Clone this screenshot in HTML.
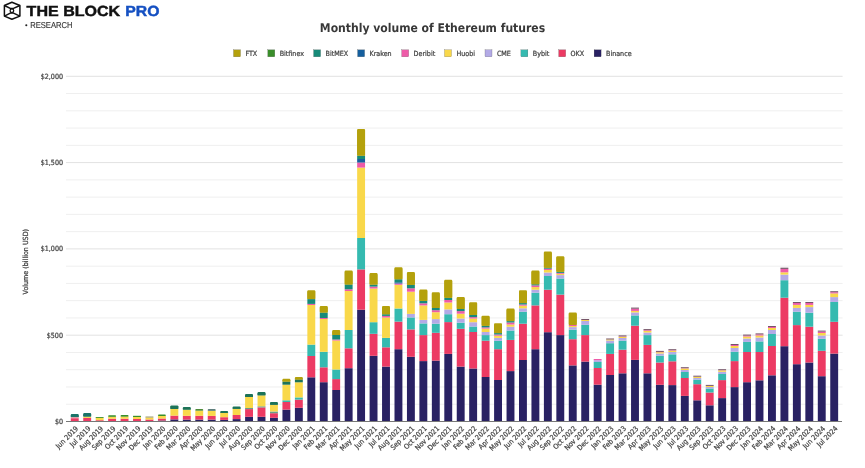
<!DOCTYPE html>
<html><head><meta charset="utf-8"><style>
html,body{margin:0;padding:0;background:#fff;}
body{width:865px;height:468px;overflow:hidden;}
svg{display:block;will-change:transform;text-rendering:geometricPrecision;}
</style></head><body>
<svg width="865" height="468" viewBox="0 0 865 468">
<rect width="865" height="468" fill="#fff"/>
<g fill="none" stroke="#111" stroke-width="1.5" stroke-linejoin="round">
<polygon points="11.9,2.2 19.9,5.5 19.9,16.1 11.9,19.3 4.4,16.1 4.4,5.5"/>
<polyline points="4.4,5.5 10.3,8.4 13.5,8.4 19.9,5.5"/>
<polyline points="4.4,16.1 10.3,13.1 13.5,13.1 19.9,16.1"/>
<circle cx="11.9" cy="10.75" r="1.8" stroke-width="1.3"/>
</g>
<g font-family="'Liberation Sans', Arial, sans-serif" font-weight="bold" font-size="14.6" stroke-width="0.45">
<text x="26.6" y="16.3" fill="#111" stroke="#111" textLength="93.6" lengthAdjust="spacingAndGlyphs">THE BLOCK</text>
<text x="125.3" y="16.3" fill="#1550C2" stroke="#1550C2" textLength="34.2" lengthAdjust="spacingAndGlyphs">PRO</text></g>
<circle cx="26.3" cy="25.2" r="1.05" fill="#222"/><text x="30.2" y="27.8" font-family="'Liberation Sans', Arial, sans-serif" font-size="8.6" fill="#3a3a3a" stroke="#3a3a3a" stroke-width="0.15" textLength="42.4" lengthAdjust="spacingAndGlyphs">RESEARCH</text>
<text x="432.5" y="31.6" text-anchor="middle" font-family="'DejaVu Sans Condensed', 'DejaVu Sans', sans-serif" font-weight="bold" font-size="12.05" fill="#383838">Monthly volume of Ethereum futures</text>
<g font-family="'DejaVu Sans Condensed', 'DejaVu Sans', sans-serif" font-size="7.1" fill="#444" stroke="#444" stroke-width="0.22"><rect x="233.5" y="49.8" width="7" height="7" fill="#B4A10C"/><text x="245.4" y="56.3">FTX</text><rect x="267.8" y="49.8" width="7" height="7" fill="#3A8E2A"/><text x="279.7" y="56.3">Bitfinex</text><rect x="313.6" y="49.8" width="7" height="7" fill="#178A78"/><text x="325.5" y="56.3">BitMEX</text><rect x="357.6" y="49.8" width="7" height="7" fill="#155F9E"/><text x="369.5" y="56.3">Kraken</text><rect x="401.7" y="49.8" width="7" height="7" fill="#EE5BA8"/><text x="413.59999999999997" y="56.3">Deribit</text><rect x="444.5" y="49.8" width="7" height="7" fill="#F9D84A"/><text x="456.4" y="56.3">Huobi</text><rect x="485" y="49.8" width="7" height="7" fill="#B3AAE6"/><text x="496.9" y="56.3">CME</text><rect x="520.9" y="49.8" width="7" height="7" fill="#35BAB0"/><text x="532.8" y="56.3">Bybit</text><rect x="558.7" y="49.8" width="7" height="7" fill="#EC3A63"/><text x="570.6" y="56.3">OKX</text><rect x="594.1" y="49.8" width="7" height="7" fill="#292163"/><text x="606.0" y="56.3">Binance</text></g>
<g><line x1="66" x2="842.6" y1="404.24" y2="404.24" stroke="#efefef" stroke-width="1"/><line x1="66" x2="842.6" y1="386.98" y2="386.98" stroke="#efefef" stroke-width="1"/><line x1="66" x2="842.6" y1="369.72" y2="369.72" stroke="#efefef" stroke-width="1"/><line x1="66" x2="842.6" y1="352.46" y2="352.46" stroke="#efefef" stroke-width="1"/><line x1="66" x2="842.6" y1="335.20" y2="335.20" stroke="#e2e2e2" stroke-width="1"/><line x1="66" x2="842.6" y1="317.94" y2="317.94" stroke="#efefef" stroke-width="1"/><line x1="66" x2="842.6" y1="300.68" y2="300.68" stroke="#efefef" stroke-width="1"/><line x1="66" x2="842.6" y1="283.42" y2="283.42" stroke="#efefef" stroke-width="1"/><line x1="66" x2="842.6" y1="266.16" y2="266.16" stroke="#efefef" stroke-width="1"/><line x1="66" x2="842.6" y1="248.90" y2="248.90" stroke="#e2e2e2" stroke-width="1"/><line x1="66" x2="842.6" y1="231.64" y2="231.64" stroke="#efefef" stroke-width="1"/><line x1="66" x2="842.6" y1="214.38" y2="214.38" stroke="#efefef" stroke-width="1"/><line x1="66" x2="842.6" y1="197.12" y2="197.12" stroke="#efefef" stroke-width="1"/><line x1="66" x2="842.6" y1="179.86" y2="179.86" stroke="#efefef" stroke-width="1"/><line x1="66" x2="842.6" y1="162.60" y2="162.60" stroke="#e2e2e2" stroke-width="1"/><line x1="66" x2="842.6" y1="145.34" y2="145.34" stroke="#efefef" stroke-width="1"/><line x1="66" x2="842.6" y1="128.08" y2="128.08" stroke="#efefef" stroke-width="1"/><line x1="66" x2="842.6" y1="110.82" y2="110.82" stroke="#efefef" stroke-width="1"/><line x1="66" x2="842.6" y1="93.56" y2="93.56" stroke="#efefef" stroke-width="1"/><line x1="66" x2="842.6" y1="76.30" y2="76.30" stroke="#e2e2e2" stroke-width="1"/></g>
<g font-family="'DejaVu Sans Condensed', 'DejaVu Sans', sans-serif" font-size="7.1" fill="#444" stroke="#444" stroke-width="0.22"><text x="63" y="423.80" text-anchor="end">$0</text><text x="63" y="337.50" text-anchor="end">$500</text><text x="63" y="251.20" text-anchor="end">$1,000</text><text x="63" y="164.90" text-anchor="end">$1,500</text><text x="63" y="78.60" text-anchor="end">$2,000</text></g>
<text transform="translate(28.4,261.7) rotate(-90)" text-anchor="middle" font-family="'DejaVu Sans Condensed', 'DejaVu Sans', sans-serif" font-size="7.1" fill="#444" stroke="#444" stroke-width="0.22">Volume (billion USD)</text>
<g><rect x="70.80" y="418.20" width="7.9" height="2.90" fill="#EC3A63"/><rect x="70.80" y="417.10" width="7.9" height="1.10" fill="#EFA0A8"/><rect x="70.80" y="414.10" width="7.9" height="3.00" rx="0.9" fill="#1B7468"/><rect x="70.80" y="415.30" width="7.9" height="1.80" fill="#1B7468"/><rect x="83.25" y="417.90" width="7.9" height="3.20" fill="#EC3A63"/><rect x="83.25" y="416.50" width="7.9" height="1.40" fill="#F9D84A"/><rect x="83.25" y="413.10" width="7.9" height="3.40" rx="0.9" fill="#1B7468"/><rect x="83.25" y="414.30" width="7.9" height="2.20" fill="#1B7468"/><rect x="95.70" y="420.20" width="7.9" height="0.90" fill="#EC3A63"/><rect x="95.70" y="417.90" width="7.9" height="2.30" fill="#F9D84A"/><rect x="95.70" y="417.00" width="7.9" height="0.90" fill="#3A8E2A"/><rect x="108.15" y="418.70" width="7.9" height="2.40" fill="#EC3A63"/><rect x="108.15" y="416.70" width="7.9" height="2.00" fill="#F9D84A"/><rect x="108.15" y="415.20" width="7.9" height="1.50" rx="0.9" fill="#3A8E2A"/><rect x="108.15" y="416.40" width="7.9" height="0.30" fill="#3A8E2A"/><rect x="120.60" y="418.70" width="7.9" height="2.40" fill="#EC3A63"/><rect x="120.60" y="416.50" width="7.9" height="2.20" fill="#F9D84A"/><rect x="120.60" y="415.00" width="7.9" height="1.50" rx="0.9" fill="#3A8E2A"/><rect x="120.60" y="416.20" width="7.9" height="0.30" fill="#3A8E2A"/><rect x="133.05" y="419.00" width="7.9" height="2.10" fill="#EC3A63"/><rect x="133.05" y="417.00" width="7.9" height="2.00" fill="#F9D84A"/><rect x="133.05" y="415.80" width="7.9" height="1.20" fill="#3A8E2A"/><rect x="145.50" y="419.50" width="7.9" height="1.60" fill="#EC3A63"/><rect x="145.50" y="417.60" width="7.9" height="1.90" fill="#F9D84A"/><rect x="145.50" y="416.50" width="7.9" height="1.10" fill="#9C9A6C"/><rect x="157.95" y="420.50" width="7.9" height="0.60" fill="#292163"/><rect x="157.95" y="418.50" width="7.9" height="2.00" fill="#EC3A63"/><rect x="157.95" y="416.00" width="7.9" height="2.50" fill="#F9D84A"/><rect x="157.95" y="414.60" width="7.9" height="1.40" rx="0.9" fill="#3A8E2A"/><rect x="157.95" y="415.80" width="7.9" height="0.20" fill="#3A8E2A"/><rect x="170.40" y="419.40" width="7.9" height="1.70" fill="#292163"/><rect x="170.40" y="415.60" width="7.9" height="3.80" fill="#EC3A63"/><rect x="170.40" y="409.00" width="7.9" height="6.60" fill="#F9D84A"/><rect x="170.40" y="405.40" width="7.9" height="3.60" rx="0.9" fill="#1D7358"/><rect x="170.40" y="406.60" width="7.9" height="2.40" fill="#1D7358"/><rect x="182.85" y="419.60" width="7.9" height="1.50" fill="#292163"/><rect x="182.85" y="415.80" width="7.9" height="3.80" fill="#EC3A63"/><rect x="182.85" y="409.60" width="7.9" height="6.20" fill="#F9D84A"/><rect x="182.85" y="407.10" width="7.9" height="2.50" rx="0.9" fill="#1D7358"/><rect x="182.85" y="408.30" width="7.9" height="1.30" fill="#1D7358"/><rect x="195.30" y="419.60" width="7.9" height="1.50" fill="#292163"/><rect x="195.30" y="415.80" width="7.9" height="3.80" fill="#EC3A63"/><rect x="195.30" y="410.60" width="7.9" height="5.20" fill="#F9D84A"/><rect x="195.30" y="409.00" width="7.9" height="1.60" rx="0.9" fill="#4E8A3A"/><rect x="195.30" y="410.20" width="7.9" height="0.40" fill="#4E8A3A"/><rect x="207.75" y="419.60" width="7.9" height="1.50" fill="#292163"/><rect x="207.75" y="415.90" width="7.9" height="3.70" fill="#EC3A63"/><rect x="207.75" y="410.70" width="7.9" height="5.20" fill="#F9D84A"/><rect x="207.75" y="409.00" width="7.9" height="1.70" rx="0.9" fill="#5F7F7C"/><rect x="207.75" y="410.20" width="7.9" height="0.50" fill="#5F7F7C"/><rect x="220.20" y="419.90" width="7.9" height="1.20" fill="#292163"/><rect x="220.20" y="417.20" width="7.9" height="2.70" fill="#EC3A63"/><rect x="220.20" y="412.90" width="7.9" height="4.30" fill="#F9D84A"/><rect x="220.20" y="411.10" width="7.9" height="1.80" rx="0.9" fill="#1D7358"/><rect x="220.20" y="412.30" width="7.9" height="0.60" fill="#1D7358"/><rect x="232.65" y="419.10" width="7.9" height="2.00" fill="#292163"/><rect x="232.65" y="415.00" width="7.9" height="4.10" fill="#EC3A63"/><rect x="232.65" y="408.80" width="7.9" height="6.20" fill="#F9D84A"/><rect x="232.65" y="406.40" width="7.9" height="2.40" rx="0.9" fill="#1D7358"/><rect x="232.65" y="407.60" width="7.9" height="1.20" fill="#1D7358"/><rect x="245.10" y="416.80" width="7.9" height="4.30" fill="#292163"/><rect x="245.10" y="409.10" width="7.9" height="7.70" fill="#EC3A63"/><rect x="245.10" y="408.00" width="7.9" height="1.10" fill="#6A9E8A"/><rect x="245.10" y="397.00" width="7.9" height="11.00" fill="#F9D84A"/><rect x="245.10" y="393.90" width="7.9" height="3.10" rx="0.9" fill="#1D7358"/><rect x="245.10" y="395.10" width="7.9" height="1.90" fill="#1D7358"/><rect x="257.55" y="416.80" width="7.9" height="4.30" fill="#292163"/><rect x="257.55" y="407.40" width="7.9" height="9.40" fill="#EC3A63"/><rect x="257.55" y="406.30" width="7.9" height="1.10" fill="#6A9E8A"/><rect x="257.55" y="395.30" width="7.9" height="11.00" fill="#F9D84A"/><rect x="257.55" y="392.00" width="7.9" height="3.30" rx="0.9" fill="#1D7358"/><rect x="257.55" y="393.20" width="7.9" height="2.10" fill="#1D7358"/><rect x="270.00" y="417.80" width="7.9" height="3.30" fill="#292163"/><rect x="270.00" y="413.20" width="7.9" height="4.60" fill="#EC3A63"/><rect x="270.00" y="411.50" width="7.9" height="1.70" fill="#6A9E8A"/><rect x="270.00" y="404.70" width="7.9" height="6.80" fill="#F9D84A"/><rect x="270.00" y="402.10" width="7.9" height="2.60" rx="0.9" fill="#1D7358"/><rect x="270.00" y="403.30" width="7.9" height="1.40" fill="#1D7358"/><rect x="282.45" y="409.60" width="7.9" height="11.50" fill="#292163"/><rect x="282.45" y="402.00" width="7.9" height="7.60" fill="#EC3A63"/><rect x="282.45" y="400.30" width="7.9" height="1.70" fill="#35BAB0"/><rect x="282.45" y="384.70" width="7.9" height="15.60" fill="#F9D84A"/><rect x="282.45" y="381.50" width="7.9" height="3.20" fill="#1D7358"/><rect x="282.45" y="378.80" width="7.9" height="2.70" rx="0.9" fill="#B4A10C"/><rect x="282.45" y="380.00" width="7.9" height="1.50" fill="#B4A10C"/><rect x="294.90" y="407.80" width="7.9" height="13.30" fill="#292163"/><rect x="294.90" y="399.60" width="7.9" height="8.20" fill="#EC3A63"/><rect x="294.90" y="397.40" width="7.9" height="2.20" fill="#35BAB0"/><rect x="294.90" y="382.30" width="7.9" height="15.10" fill="#F9D84A"/><rect x="294.90" y="379.40" width="7.9" height="2.90" fill="#1D7358"/><rect x="294.90" y="377.00" width="7.9" height="2.40" rx="0.9" fill="#B4A10C"/><rect x="294.90" y="378.20" width="7.9" height="1.20" fill="#B4A10C"/><rect x="307.35" y="377.30" width="7.9" height="43.80" fill="#292163"/><rect x="307.35" y="356.00" width="7.9" height="21.30" fill="#EC3A63"/><rect x="307.35" y="344.60" width="7.9" height="11.40" fill="#35BAB0"/><rect x="307.35" y="305.00" width="7.9" height="39.60" fill="#F9D84A"/><rect x="307.35" y="303.90" width="7.9" height="1.10" fill="#EE5BA8"/><rect x="307.35" y="299.10" width="7.9" height="4.80" fill="#178A78"/><rect x="307.35" y="290.30" width="7.9" height="8.80" rx="0.9" fill="#B4A10C"/><rect x="307.35" y="291.50" width="7.9" height="7.60" fill="#B4A10C"/><rect x="319.80" y="382.20" width="7.9" height="38.90" fill="#292163"/><rect x="319.80" y="367.30" width="7.9" height="14.90" fill="#EC3A63"/><rect x="319.80" y="351.80" width="7.9" height="15.50" fill="#35BAB0"/><rect x="319.80" y="319.00" width="7.9" height="32.80" fill="#F9D84A"/><rect x="319.80" y="318.00" width="7.9" height="1.00" fill="#EE5BA8"/><rect x="319.80" y="312.50" width="7.9" height="5.50" fill="#178A78"/><rect x="319.80" y="306.00" width="7.9" height="6.50" rx="0.9" fill="#B4A10C"/><rect x="319.80" y="307.20" width="7.9" height="5.30" fill="#B4A10C"/><rect x="332.25" y="390.00" width="7.9" height="31.10" fill="#292163"/><rect x="332.25" y="379.10" width="7.9" height="10.90" fill="#EC3A63"/><rect x="332.25" y="369.50" width="7.9" height="9.60" fill="#35BAB0"/><rect x="332.25" y="340.50" width="7.9" height="29.00" fill="#F9D84A"/><rect x="332.25" y="339.50" width="7.9" height="1.00" fill="#EE5BA8"/><rect x="332.25" y="335.00" width="7.9" height="4.50" fill="#178A78"/><rect x="332.25" y="330.10" width="7.9" height="4.90" rx="0.9" fill="#B4A10C"/><rect x="332.25" y="331.30" width="7.9" height="3.70" fill="#B4A10C"/><rect x="344.70" y="368.20" width="7.9" height="52.90" fill="#292163"/><rect x="344.70" y="348.30" width="7.9" height="19.90" fill="#EC3A63"/><rect x="344.70" y="330.00" width="7.9" height="18.30" fill="#35BAB0"/><rect x="344.70" y="291.00" width="7.9" height="39.00" fill="#F9D84A"/><rect x="344.70" y="289.30" width="7.9" height="1.70" fill="#EE5BA8"/><rect x="344.70" y="284.40" width="7.9" height="4.90" fill="#178A78"/><rect x="344.70" y="270.50" width="7.9" height="13.90" rx="0.9" fill="#B4A10C"/><rect x="344.70" y="271.70" width="7.9" height="12.70" fill="#B4A10C"/><rect x="357.15" y="309.70" width="7.9" height="111.40" fill="#292163"/><rect x="357.15" y="269.40" width="7.9" height="40.30" fill="#EC3A63"/><rect x="357.15" y="238.00" width="7.9" height="31.40" fill="#35BAB0"/><rect x="357.15" y="167.60" width="7.9" height="70.40" fill="#F9D84A"/><rect x="357.15" y="162.50" width="7.9" height="5.10" fill="#EE5BA8"/><rect x="357.15" y="159.00" width="7.9" height="3.50" fill="#155F9E"/><rect x="357.15" y="155.60" width="7.9" height="3.40" fill="#178A78"/><rect x="357.15" y="128.90" width="7.9" height="26.70" rx="0.9" fill="#B4A10C"/><rect x="357.15" y="130.10" width="7.9" height="25.50" fill="#B4A10C"/><rect x="369.60" y="355.80" width="7.9" height="65.30" fill="#292163"/><rect x="369.60" y="333.80" width="7.9" height="22.00" fill="#EC3A63"/><rect x="369.60" y="322.20" width="7.9" height="11.60" fill="#35BAB0"/><rect x="369.60" y="288.50" width="7.9" height="33.70" fill="#F9D84A"/><rect x="369.60" y="286.60" width="7.9" height="1.90" fill="#EE5BA8"/><rect x="369.60" y="284.60" width="7.9" height="2.00" fill="#178A78"/><rect x="369.60" y="273.10" width="7.9" height="11.50" rx="0.9" fill="#B4A10C"/><rect x="369.60" y="274.30" width="7.9" height="10.30" fill="#B4A10C"/><rect x="382.05" y="366.60" width="7.9" height="54.50" fill="#292163"/><rect x="382.05" y="347.30" width="7.9" height="19.30" fill="#EC3A63"/><rect x="382.05" y="337.90" width="7.9" height="9.40" fill="#35BAB0"/><rect x="382.05" y="317.50" width="7.9" height="20.40" fill="#F9D84A"/><rect x="382.05" y="315.90" width="7.9" height="1.60" fill="#EE5BA8"/><rect x="382.05" y="314.20" width="7.9" height="1.70" fill="#178A78"/><rect x="382.05" y="306.00" width="7.9" height="8.20" rx="0.9" fill="#B4A10C"/><rect x="382.05" y="307.20" width="7.9" height="7.00" fill="#B4A10C"/><rect x="394.50" y="349.20" width="7.9" height="71.90" fill="#292163"/><rect x="394.50" y="321.60" width="7.9" height="27.60" fill="#EC3A63"/><rect x="394.50" y="308.50" width="7.9" height="13.10" fill="#35BAB0"/><rect x="394.50" y="284.80" width="7.9" height="23.70" fill="#F9D84A"/><rect x="394.50" y="283.50" width="7.9" height="1.30" fill="#EE5BA8"/><rect x="394.50" y="282.30" width="7.9" height="1.20" fill="#155F9E"/><rect x="394.50" y="279.20" width="7.9" height="3.10" fill="#178A78"/><rect x="394.50" y="267.20" width="7.9" height="12.00" rx="0.9" fill="#B4A10C"/><rect x="394.50" y="268.40" width="7.9" height="10.80" fill="#B4A10C"/><rect x="406.95" y="356.80" width="7.9" height="64.30" fill="#292163"/><rect x="406.95" y="329.40" width="7.9" height="27.40" fill="#EC3A63"/><rect x="406.95" y="317.40" width="7.9" height="12.00" fill="#35BAB0"/><rect x="406.95" y="313.90" width="7.9" height="3.50" fill="#B3AAE6"/><rect x="406.95" y="291.70" width="7.9" height="22.20" fill="#F9D84A"/><rect x="406.95" y="288.30" width="7.9" height="3.40" fill="#EE5BA8"/><rect x="406.95" y="284.80" width="7.9" height="3.50" fill="#178A78"/><rect x="406.95" y="272.00" width="7.9" height="12.80" rx="0.9" fill="#B4A10C"/><rect x="406.95" y="273.20" width="7.9" height="11.60" fill="#B4A10C"/><rect x="419.40" y="361.10" width="7.9" height="60.00" fill="#292163"/><rect x="419.40" y="335.10" width="7.9" height="26.00" fill="#EC3A63"/><rect x="419.40" y="323.40" width="7.9" height="11.70" fill="#35BAB0"/><rect x="419.40" y="319.90" width="7.9" height="3.50" fill="#B3AAE6"/><rect x="419.40" y="305.40" width="7.9" height="14.50" fill="#F9D84A"/><rect x="419.40" y="303.30" width="7.9" height="2.10" fill="#EE5BA8"/><rect x="419.40" y="300.80" width="7.9" height="2.50" fill="#178A78"/><rect x="419.40" y="289.60" width="7.9" height="11.20" rx="0.9" fill="#B4A10C"/><rect x="419.40" y="290.80" width="7.9" height="10.00" fill="#B4A10C"/><rect x="431.85" y="360.60" width="7.9" height="60.50" fill="#292163"/><rect x="431.85" y="332.80" width="7.9" height="27.80" fill="#EC3A63"/><rect x="431.85" y="323.70" width="7.9" height="9.10" fill="#35BAB0"/><rect x="431.85" y="319.10" width="7.9" height="4.60" fill="#B3AAE6"/><rect x="431.85" y="312.20" width="7.9" height="6.90" fill="#F9D84A"/><rect x="431.85" y="310.20" width="7.9" height="2.00" fill="#EE5BA8"/><rect x="431.85" y="308.00" width="7.9" height="2.20" fill="#178A78"/><rect x="431.85" y="292.20" width="7.9" height="15.80" rx="0.9" fill="#B4A10C"/><rect x="431.85" y="293.40" width="7.9" height="14.60" fill="#B4A10C"/><rect x="444.30" y="353.90" width="7.9" height="67.20" fill="#292163"/><rect x="444.30" y="322.10" width="7.9" height="31.80" fill="#EC3A63"/><rect x="444.30" y="314.20" width="7.9" height="7.90" fill="#35BAB0"/><rect x="444.30" y="309.40" width="7.9" height="4.80" fill="#B3AAE6"/><rect x="444.30" y="302.50" width="7.9" height="6.90" fill="#F9D84A"/><rect x="444.30" y="300.00" width="7.9" height="2.50" fill="#EE5BA8"/><rect x="444.30" y="297.70" width="7.9" height="2.30" fill="#178A78"/><rect x="444.30" y="279.80" width="7.9" height="17.90" rx="0.9" fill="#B4A10C"/><rect x="444.30" y="281.00" width="7.9" height="16.70" fill="#B4A10C"/><rect x="456.75" y="366.60" width="7.9" height="54.50" fill="#292163"/><rect x="456.75" y="328.80" width="7.9" height="37.80" fill="#EC3A63"/><rect x="456.75" y="322.70" width="7.9" height="6.10" fill="#35BAB0"/><rect x="456.75" y="318.50" width="7.9" height="4.20" fill="#B3AAE6"/><rect x="456.75" y="313.70" width="7.9" height="4.80" fill="#F9D84A"/><rect x="456.75" y="311.10" width="7.9" height="2.60" fill="#EE5BA8"/><rect x="456.75" y="309.00" width="7.9" height="2.10" fill="#178A78"/><rect x="456.75" y="296.90" width="7.9" height="12.10" rx="0.9" fill="#B4A10C"/><rect x="456.75" y="298.10" width="7.9" height="10.90" fill="#B4A10C"/><rect x="469.20" y="368.50" width="7.9" height="52.60" fill="#292163"/><rect x="469.20" y="332.00" width="7.9" height="36.50" fill="#EC3A63"/><rect x="469.20" y="326.50" width="7.9" height="5.50" fill="#35BAB0"/><rect x="469.20" y="322.20" width="7.9" height="4.30" fill="#B3AAE6"/><rect x="469.20" y="318.50" width="7.9" height="3.70" fill="#F9D84A"/><rect x="469.20" y="317.10" width="7.9" height="1.40" fill="#EE5BA8"/><rect x="469.20" y="314.90" width="7.9" height="2.20" fill="#178A78"/><rect x="469.20" y="302.20" width="7.9" height="12.70" rx="0.9" fill="#B4A10C"/><rect x="469.20" y="303.40" width="7.9" height="11.50" fill="#B4A10C"/><rect x="481.65" y="377.00" width="7.9" height="44.10" fill="#292163"/><rect x="481.65" y="340.70" width="7.9" height="36.30" fill="#EC3A63"/><rect x="481.65" y="335.10" width="7.9" height="5.60" fill="#35BAB0"/><rect x="481.65" y="332.00" width="7.9" height="3.10" fill="#B3AAE6"/><rect x="481.65" y="328.60" width="7.9" height="3.40" fill="#F9D84A"/><rect x="481.65" y="327.40" width="7.9" height="1.20" fill="#EE5BA8"/><rect x="481.65" y="325.70" width="7.9" height="1.70" fill="#178A78"/><rect x="481.65" y="315.70" width="7.9" height="10.00" rx="0.9" fill="#B4A10C"/><rect x="481.65" y="316.90" width="7.9" height="8.80" fill="#B4A10C"/><rect x="494.10" y="380.00" width="7.9" height="41.10" fill="#292163"/><rect x="494.10" y="349.20" width="7.9" height="30.80" fill="#EC3A63"/><rect x="494.10" y="340.80" width="7.9" height="8.40" fill="#35BAB0"/><rect x="494.10" y="337.90" width="7.9" height="2.90" fill="#B3AAE6"/><rect x="494.10" y="335.70" width="7.9" height="2.20" fill="#F9D84A"/><rect x="494.10" y="334.50" width="7.9" height="1.20" fill="#EE5BA8"/><rect x="494.10" y="333.10" width="7.9" height="1.40" fill="#178A78"/><rect x="494.10" y="323.20" width="7.9" height="9.90" rx="0.9" fill="#B4A10C"/><rect x="494.10" y="324.40" width="7.9" height="8.70" fill="#B4A10C"/><rect x="506.55" y="371.10" width="7.9" height="50.00" fill="#292163"/><rect x="506.55" y="339.90" width="7.9" height="31.20" fill="#EC3A63"/><rect x="506.55" y="330.50" width="7.9" height="9.40" fill="#35BAB0"/><rect x="506.55" y="326.70" width="7.9" height="3.80" fill="#B3AAE6"/><rect x="506.55" y="324.50" width="7.9" height="2.20" fill="#F9D84A"/><rect x="506.55" y="322.50" width="7.9" height="2.00" fill="#EE5BA8"/><rect x="506.55" y="321.10" width="7.9" height="1.40" fill="#178A78"/><rect x="506.55" y="308.60" width="7.9" height="12.50" rx="0.9" fill="#B4A10C"/><rect x="506.55" y="309.80" width="7.9" height="11.30" fill="#B4A10C"/><rect x="519.00" y="360.00" width="7.9" height="61.10" fill="#292163"/><rect x="519.00" y="323.70" width="7.9" height="36.30" fill="#EC3A63"/><rect x="519.00" y="311.70" width="7.9" height="12.00" fill="#35BAB0"/><rect x="519.00" y="308.30" width="7.9" height="3.40" fill="#B3AAE6"/><rect x="519.00" y="305.70" width="7.9" height="2.60" fill="#F9D84A"/><rect x="519.00" y="304.50" width="7.9" height="1.20" fill="#EE5BA8"/><rect x="519.00" y="303.10" width="7.9" height="1.40" fill="#178A78"/><rect x="519.00" y="290.30" width="7.9" height="12.80" rx="0.9" fill="#B4A10C"/><rect x="519.00" y="291.50" width="7.9" height="11.60" fill="#B4A10C"/><rect x="531.45" y="349.20" width="7.9" height="71.90" fill="#292163"/><rect x="531.45" y="305.40" width="7.9" height="43.80" fill="#EC3A63"/><rect x="531.45" y="292.70" width="7.9" height="12.70" fill="#35BAB0"/><rect x="531.45" y="289.70" width="7.9" height="3.00" fill="#B3AAE6"/><rect x="531.45" y="287.10" width="7.9" height="2.60" fill="#F9D84A"/><rect x="531.45" y="285.40" width="7.9" height="1.70" fill="#EE5BA8"/><rect x="531.45" y="284.20" width="7.9" height="1.20" fill="#178A78"/><rect x="531.45" y="270.50" width="7.9" height="13.70" rx="0.9" fill="#B4A10C"/><rect x="531.45" y="271.70" width="7.9" height="12.50" fill="#B4A10C"/><rect x="543.90" y="332.20" width="7.9" height="88.90" fill="#292163"/><rect x="543.90" y="289.70" width="7.9" height="42.50" fill="#EC3A63"/><rect x="543.90" y="276.00" width="7.9" height="13.70" fill="#35BAB0"/><rect x="543.90" y="272.50" width="7.9" height="3.50" fill="#B3AAE6"/><rect x="543.90" y="270.00" width="7.9" height="2.50" fill="#F9D84A"/><rect x="543.90" y="268.70" width="7.9" height="1.30" fill="#EE5BA8"/><rect x="543.90" y="267.70" width="7.9" height="1.00" fill="#178A78"/><rect x="543.90" y="251.60" width="7.9" height="16.10" rx="0.9" fill="#B4A10C"/><rect x="543.90" y="252.80" width="7.9" height="14.90" fill="#B4A10C"/><rect x="556.35" y="335.10" width="7.9" height="86.00" fill="#292163"/><rect x="556.35" y="294.60" width="7.9" height="40.50" fill="#EC3A63"/><rect x="556.35" y="278.50" width="7.9" height="16.10" fill="#35BAB0"/><rect x="556.35" y="275.10" width="7.9" height="3.40" fill="#B3AAE6"/><rect x="556.35" y="273.80" width="7.9" height="1.30" fill="#F9D84A"/><rect x="556.35" y="272.90" width="7.9" height="0.90" fill="#EE5BA8"/><rect x="556.35" y="271.70" width="7.9" height="1.20" fill="#178A78"/><rect x="556.35" y="256.30" width="7.9" height="15.40" rx="0.9" fill="#B4A10C"/><rect x="556.35" y="257.50" width="7.9" height="14.20" fill="#B4A10C"/><rect x="568.80" y="365.40" width="7.9" height="55.70" fill="#292163"/><rect x="568.80" y="339.20" width="7.9" height="26.20" fill="#EC3A63"/><rect x="568.80" y="329.60" width="7.9" height="9.60" fill="#35BAB0"/><rect x="568.80" y="327.10" width="7.9" height="2.50" fill="#B3AAE6"/><rect x="568.80" y="326.00" width="7.9" height="1.10" fill="#F9D84A"/><rect x="568.80" y="324.90" width="7.9" height="1.10" fill="#EE5BA8"/><rect x="568.80" y="312.50" width="7.9" height="12.40" rx="0.9" fill="#B4A10C"/><rect x="568.80" y="313.70" width="7.9" height="11.20" fill="#B4A10C"/><rect x="581.25" y="361.60" width="7.9" height="59.50" fill="#292163"/><rect x="581.25" y="335.10" width="7.9" height="26.50" fill="#EC3A63"/><rect x="581.25" y="324.80" width="7.9" height="10.30" fill="#35BAB0"/><rect x="581.25" y="321.00" width="7.9" height="3.80" fill="#B3AAE6"/><rect x="581.25" y="320.00" width="7.9" height="1.00" fill="#F9D84A"/><rect x="581.25" y="319.00" width="7.9" height="1.00" fill="#765468"/><rect x="593.70" y="384.70" width="7.9" height="36.40" fill="#292163"/><rect x="593.70" y="368.00" width="7.9" height="16.70" fill="#EC3A63"/><rect x="593.70" y="362.00" width="7.9" height="6.00" fill="#35BAB0"/><rect x="593.70" y="360.20" width="7.9" height="1.80" fill="#B3AAE6"/><rect x="593.70" y="359.00" width="7.9" height="1.20" fill="#EE5BA8"/><rect x="606.15" y="375.00" width="7.9" height="46.10" fill="#292163"/><rect x="606.15" y="353.90" width="7.9" height="21.10" fill="#EC3A63"/><rect x="606.15" y="343.20" width="7.9" height="10.70" fill="#35BAB0"/><rect x="606.15" y="340.50" width="7.9" height="2.70" fill="#B3AAE6"/><rect x="606.15" y="339.50" width="7.9" height="1.00" fill="#F9D84A"/><rect x="606.15" y="338.50" width="7.9" height="1.00" fill="#765468"/><rect x="618.60" y="373.30" width="7.9" height="47.80" fill="#292163"/><rect x="618.60" y="349.70" width="7.9" height="23.60" fill="#EC3A63"/><rect x="618.60" y="340.60" width="7.9" height="9.10" fill="#35BAB0"/><rect x="618.60" y="338.00" width="7.9" height="2.60" fill="#B3AAE6"/><rect x="618.60" y="336.80" width="7.9" height="1.20" fill="#F9D84A"/><rect x="618.60" y="336.40" width="7.9" height="0.40" fill="#EE5BA8"/><rect x="618.60" y="335.40" width="7.9" height="1.00" fill="#765468"/><rect x="631.05" y="359.90" width="7.9" height="61.20" fill="#292163"/><rect x="631.05" y="325.70" width="7.9" height="34.20" fill="#EC3A63"/><rect x="631.05" y="315.40" width="7.9" height="10.30" fill="#35BAB0"/><rect x="631.05" y="312.40" width="7.9" height="3.00" fill="#B3AAE6"/><rect x="631.05" y="310.90" width="7.9" height="1.50" fill="#F9D84A"/><rect x="631.05" y="308.70" width="7.9" height="2.20" fill="#EE5BA8"/><rect x="631.05" y="307.60" width="7.9" height="1.10" fill="#765468"/><rect x="643.50" y="373.30" width="7.9" height="47.80" fill="#292163"/><rect x="643.50" y="344.90" width="7.9" height="28.40" fill="#EC3A63"/><rect x="643.50" y="335.10" width="7.9" height="9.80" fill="#35BAB0"/><rect x="643.50" y="332.50" width="7.9" height="2.60" fill="#B3AAE6"/><rect x="643.50" y="330.80" width="7.9" height="1.70" fill="#F9D84A"/><rect x="643.50" y="330.10" width="7.9" height="0.70" fill="#EE5BA8"/><rect x="643.50" y="329.10" width="7.9" height="1.00" fill="#765468"/><rect x="655.95" y="384.80" width="7.9" height="36.30" fill="#292163"/><rect x="655.95" y="362.50" width="7.9" height="22.30" fill="#EC3A63"/><rect x="655.95" y="355.70" width="7.9" height="6.80" fill="#35BAB0"/><rect x="655.95" y="353.50" width="7.9" height="2.20" fill="#B3AAE6"/><rect x="655.95" y="352.20" width="7.9" height="1.30" fill="#F9D84A"/><rect x="655.95" y="351.90" width="7.9" height="0.30" fill="#EE5BA8"/><rect x="655.95" y="350.90" width="7.9" height="1.00" fill="#765468"/><rect x="668.40" y="385.10" width="7.9" height="36.00" fill="#292163"/><rect x="668.40" y="361.30" width="7.9" height="23.80" fill="#EC3A63"/><rect x="668.40" y="354.30" width="7.9" height="7.00" fill="#35BAB0"/><rect x="668.40" y="352.00" width="7.9" height="2.30" fill="#B3AAE6"/><rect x="668.40" y="350.70" width="7.9" height="1.30" fill="#F9D84A"/><rect x="668.40" y="350.20" width="7.9" height="0.50" fill="#EE5BA8"/><rect x="668.40" y="349.20" width="7.9" height="1.00" fill="#765468"/><rect x="680.85" y="395.90" width="7.9" height="25.20" fill="#292163"/><rect x="680.85" y="378.00" width="7.9" height="17.90" fill="#EC3A63"/><rect x="680.85" y="372.00" width="7.9" height="6.00" fill="#35BAB0"/><rect x="680.85" y="370.00" width="7.9" height="2.00" fill="#B3AAE6"/><rect x="680.85" y="368.50" width="7.9" height="1.50" fill="#F9D84A"/><rect x="680.85" y="368.20" width="7.9" height="0.30" fill="#EE5BA8"/><rect x="680.85" y="367.20" width="7.9" height="1.00" fill="#765468"/><rect x="693.30" y="400.30" width="7.9" height="20.80" fill="#292163"/><rect x="693.30" y="384.20" width="7.9" height="16.10" fill="#EC3A63"/><rect x="693.30" y="379.60" width="7.9" height="4.60" fill="#35BAB0"/><rect x="693.30" y="378.00" width="7.9" height="1.60" fill="#B3AAE6"/><rect x="693.30" y="376.80" width="7.9" height="1.20" fill="#F9D84A"/><rect x="693.30" y="376.70" width="7.9" height="0.10" fill="#EE5BA8"/><rect x="693.30" y="375.70" width="7.9" height="1.00" fill="#765468"/><rect x="705.75" y="405.30" width="7.9" height="15.80" fill="#292163"/><rect x="705.75" y="392.50" width="7.9" height="12.80" fill="#EC3A63"/><rect x="705.75" y="388.50" width="7.9" height="4.00" fill="#35BAB0"/><rect x="705.75" y="387.00" width="7.9" height="1.50" fill="#B3AAE6"/><rect x="705.75" y="386.00" width="7.9" height="1.00" fill="#F9D84A"/><rect x="705.75" y="385.90" width="7.9" height="0.10" fill="#EE5BA8"/><rect x="705.75" y="384.90" width="7.9" height="1.00" fill="#765468"/><rect x="718.20" y="398.10" width="7.9" height="23.00" fill="#292163"/><rect x="718.20" y="380.10" width="7.9" height="18.00" fill="#EC3A63"/><rect x="718.20" y="374.00" width="7.9" height="6.10" fill="#35BAB0"/><rect x="718.20" y="371.80" width="7.9" height="2.20" fill="#B3AAE6"/><rect x="718.20" y="370.40" width="7.9" height="1.40" fill="#F9D84A"/><rect x="718.20" y="370.20" width="7.9" height="0.20" fill="#EE5BA8"/><rect x="718.20" y="369.20" width="7.9" height="1.00" fill="#765468"/><rect x="730.65" y="387.10" width="7.9" height="34.00" fill="#292163"/><rect x="730.65" y="361.10" width="7.9" height="26.00" fill="#EC3A63"/><rect x="730.65" y="351.70" width="7.9" height="9.40" fill="#35BAB0"/><rect x="730.65" y="348.00" width="7.9" height="3.70" fill="#B3AAE6"/><rect x="730.65" y="346.00" width="7.9" height="2.00" fill="#F9D84A"/><rect x="730.65" y="345.00" width="7.9" height="1.00" fill="#EE5BA8"/><rect x="730.65" y="344.00" width="7.9" height="1.00" fill="#765468"/><rect x="743.10" y="382.20" width="7.9" height="38.90" fill="#292163"/><rect x="743.10" y="352.00" width="7.9" height="30.20" fill="#EC3A63"/><rect x="743.10" y="341.90" width="7.9" height="10.10" fill="#35BAB0"/><rect x="743.10" y="338.50" width="7.9" height="3.40" fill="#B3AAE6"/><rect x="743.10" y="336.50" width="7.9" height="2.00" fill="#F9D84A"/><rect x="743.10" y="335.60" width="7.9" height="0.90" fill="#EE5BA8"/><rect x="743.10" y="334.60" width="7.9" height="1.00" fill="#765468"/><rect x="755.55" y="380.30" width="7.9" height="40.80" fill="#292163"/><rect x="755.55" y="352.00" width="7.9" height="28.30" fill="#EC3A63"/><rect x="755.55" y="341.40" width="7.9" height="10.60" fill="#35BAB0"/><rect x="755.55" y="337.50" width="7.9" height="3.90" fill="#B3AAE6"/><rect x="755.55" y="335.50" width="7.9" height="2.00" fill="#F9D84A"/><rect x="755.55" y="334.40" width="7.9" height="1.10" fill="#EE5BA8"/><rect x="755.55" y="333.40" width="7.9" height="1.00" fill="#765468"/><rect x="768.00" y="375.30" width="7.9" height="45.80" fill="#292163"/><rect x="768.00" y="346.00" width="7.9" height="29.30" fill="#EC3A63"/><rect x="768.00" y="334.00" width="7.9" height="12.00" fill="#35BAB0"/><rect x="768.00" y="330.00" width="7.9" height="4.00" fill="#B3AAE6"/><rect x="768.00" y="328.00" width="7.9" height="2.00" fill="#F9D84A"/><rect x="768.00" y="327.00" width="7.9" height="1.00" fill="#EE5BA8"/><rect x="768.00" y="326.00" width="7.9" height="1.00" fill="#765468"/><rect x="780.45" y="346.20" width="7.9" height="74.90" fill="#292163"/><rect x="780.45" y="297.70" width="7.9" height="48.50" fill="#EC3A63"/><rect x="780.45" y="280.20" width="7.9" height="17.50" fill="#35BAB0"/><rect x="780.45" y="274.60" width="7.9" height="5.60" fill="#B3AAE6"/><rect x="780.45" y="272.30" width="7.9" height="2.30" fill="#F9D84A"/><rect x="780.45" y="268.90" width="7.9" height="3.40" fill="#EE5BA8"/><rect x="780.45" y="267.70" width="7.9" height="1.20" fill="#765468"/><rect x="792.90" y="364.20" width="7.9" height="56.90" fill="#292163"/><rect x="792.90" y="325.10" width="7.9" height="39.10" fill="#EC3A63"/><rect x="792.90" y="311.70" width="7.9" height="13.40" fill="#35BAB0"/><rect x="792.90" y="307.90" width="7.9" height="3.80" fill="#B3AAE6"/><rect x="792.90" y="304.90" width="7.9" height="3.00" fill="#F9D84A"/><rect x="792.90" y="303.00" width="7.9" height="1.90" fill="#EE5BA8"/><rect x="792.90" y="302.00" width="7.9" height="1.00" fill="#765468"/><rect x="805.35" y="362.50" width="7.9" height="58.60" fill="#292163"/><rect x="805.35" y="326.70" width="7.9" height="35.80" fill="#EC3A63"/><rect x="805.35" y="312.70" width="7.9" height="14.00" fill="#35BAB0"/><rect x="805.35" y="307.10" width="7.9" height="5.60" fill="#B3AAE6"/><rect x="805.35" y="304.90" width="7.9" height="2.20" fill="#F9D84A"/><rect x="805.35" y="303.00" width="7.9" height="1.90" fill="#EE5BA8"/><rect x="805.35" y="302.00" width="7.9" height="1.00" fill="#765468"/><rect x="817.80" y="376.20" width="7.9" height="44.90" fill="#292163"/><rect x="817.80" y="350.80" width="7.9" height="25.40" fill="#EC3A63"/><rect x="817.80" y="338.80" width="7.9" height="12.00" fill="#35BAB0"/><rect x="817.80" y="335.50" width="7.9" height="3.30" fill="#B3AAE6"/><rect x="817.80" y="333.00" width="7.9" height="2.50" fill="#F9D84A"/><rect x="817.80" y="331.60" width="7.9" height="1.40" fill="#EE5BA8"/><rect x="817.80" y="330.60" width="7.9" height="1.00" fill="#765468"/><rect x="830.25" y="353.60" width="7.9" height="67.50" fill="#292163"/><rect x="830.25" y="321.80" width="7.9" height="31.80" fill="#EC3A63"/><rect x="830.25" y="301.90" width="7.9" height="19.90" fill="#35BAB0"/><rect x="830.25" y="297.10" width="7.9" height="4.80" fill="#B3AAE6"/><rect x="830.25" y="293.40" width="7.9" height="3.70" fill="#F9D84A"/><rect x="830.25" y="292.20" width="7.9" height="1.20" fill="#EE5BA8"/><rect x="830.25" y="291.20" width="7.9" height="1.00" fill="#765468"/></g>
<line x1="66" x2="842" y1="421.5" y2="421.5" stroke="#777" stroke-width="1"/>
<g font-family="'DejaVu Sans Condensed', 'DejaVu Sans', sans-serif" font-size="7.1" fill="#444" stroke="#444" stroke-width="0.22"><text transform="translate(78.75,429) rotate(-45)" text-anchor="end">Jun 2019</text><text transform="translate(91.20,429) rotate(-45)" text-anchor="end">Jul 2019</text><text transform="translate(103.65,429) rotate(-45)" text-anchor="end">Aug 2019</text><text transform="translate(116.10,429) rotate(-45)" text-anchor="end">Sep 2019</text><text transform="translate(128.55,429) rotate(-45)" text-anchor="end">Oct 2019</text><text transform="translate(141.00,429) rotate(-45)" text-anchor="end">Nov 2019</text><text transform="translate(153.45,429) rotate(-45)" text-anchor="end">Dec 2019</text><text transform="translate(165.90,429) rotate(-45)" text-anchor="end">Jan 2020</text><text transform="translate(178.35,429) rotate(-45)" text-anchor="end">Feb 2020</text><text transform="translate(190.80,429) rotate(-45)" text-anchor="end">Mar 2020</text><text transform="translate(203.25,429) rotate(-45)" text-anchor="end">Apr 2020</text><text transform="translate(215.70,429) rotate(-45)" text-anchor="end">May 2020</text><text transform="translate(228.15,429) rotate(-45)" text-anchor="end">Jun 2020</text><text transform="translate(240.60,429) rotate(-45)" text-anchor="end">Jul 2020</text><text transform="translate(253.05,429) rotate(-45)" text-anchor="end">Aug 2020</text><text transform="translate(265.50,429) rotate(-45)" text-anchor="end">Sep 2020</text><text transform="translate(277.95,429) rotate(-45)" text-anchor="end">Oct 2020</text><text transform="translate(290.40,429) rotate(-45)" text-anchor="end">Nov 2020</text><text transform="translate(302.85,429) rotate(-45)" text-anchor="end">Dec 2020</text><text transform="translate(315.30,429) rotate(-45)" text-anchor="end">Jan 2021</text><text transform="translate(327.75,429) rotate(-45)" text-anchor="end">Feb 2021</text><text transform="translate(340.20,429) rotate(-45)" text-anchor="end">Mar 2021</text><text transform="translate(352.65,429) rotate(-45)" text-anchor="end">Apr 2021</text><text transform="translate(365.10,429) rotate(-45)" text-anchor="end">May 2021</text><text transform="translate(377.55,429) rotate(-45)" text-anchor="end">Jun 2021</text><text transform="translate(390.00,429) rotate(-45)" text-anchor="end">Jul 2021</text><text transform="translate(402.45,429) rotate(-45)" text-anchor="end">Aug 2021</text><text transform="translate(414.90,429) rotate(-45)" text-anchor="end">Sep 2021</text><text transform="translate(427.35,429) rotate(-45)" text-anchor="end">Oct 2021</text><text transform="translate(439.80,429) rotate(-45)" text-anchor="end">Nov 2021</text><text transform="translate(452.25,429) rotate(-45)" text-anchor="end">Dec 2021</text><text transform="translate(464.70,429) rotate(-45)" text-anchor="end">Jan 2022</text><text transform="translate(477.15,429) rotate(-45)" text-anchor="end">Feb 2022</text><text transform="translate(489.60,429) rotate(-45)" text-anchor="end">Mar 2022</text><text transform="translate(502.05,429) rotate(-45)" text-anchor="end">Apr 2022</text><text transform="translate(514.50,429) rotate(-45)" text-anchor="end">May 2022</text><text transform="translate(526.95,429) rotate(-45)" text-anchor="end">Jun 2022</text><text transform="translate(539.40,429) rotate(-45)" text-anchor="end">Jul 2022</text><text transform="translate(551.85,429) rotate(-45)" text-anchor="end">Aug 2022</text><text transform="translate(564.30,429) rotate(-45)" text-anchor="end">Sep 2022</text><text transform="translate(576.75,429) rotate(-45)" text-anchor="end">Oct 2022</text><text transform="translate(589.20,429) rotate(-45)" text-anchor="end">Nov 2022</text><text transform="translate(601.65,429) rotate(-45)" text-anchor="end">Dec 2022</text><text transform="translate(614.10,429) rotate(-45)" text-anchor="end">Jan 2023</text><text transform="translate(626.55,429) rotate(-45)" text-anchor="end">Feb 2023</text><text transform="translate(639.00,429) rotate(-45)" text-anchor="end">Mar 2023</text><text transform="translate(651.45,429) rotate(-45)" text-anchor="end">Apr 2023</text><text transform="translate(663.90,429) rotate(-45)" text-anchor="end">May 2023</text><text transform="translate(676.35,429) rotate(-45)" text-anchor="end">Jun 2023</text><text transform="translate(688.80,429) rotate(-45)" text-anchor="end">Jul 2023</text><text transform="translate(701.25,429) rotate(-45)" text-anchor="end">Aug 2023</text><text transform="translate(713.70,429) rotate(-45)" text-anchor="end">Sep 2023</text><text transform="translate(726.15,429) rotate(-45)" text-anchor="end">Oct 2023</text><text transform="translate(738.60,429) rotate(-45)" text-anchor="end">Nov 2023</text><text transform="translate(751.05,429) rotate(-45)" text-anchor="end">Dec 2023</text><text transform="translate(763.50,429) rotate(-45)" text-anchor="end">Jan 2024</text><text transform="translate(775.95,429) rotate(-45)" text-anchor="end">Feb 2024</text><text transform="translate(788.40,429) rotate(-45)" text-anchor="end">Mar 2024</text><text transform="translate(800.85,429) rotate(-45)" text-anchor="end">Apr 2024</text><text transform="translate(813.30,429) rotate(-45)" text-anchor="end">May 2024</text><text transform="translate(825.75,429) rotate(-45)" text-anchor="end">Jun 2024</text><text transform="translate(838.20,429) rotate(-45)" text-anchor="end">Jul 2024</text></g>
</svg>
</body></html>
